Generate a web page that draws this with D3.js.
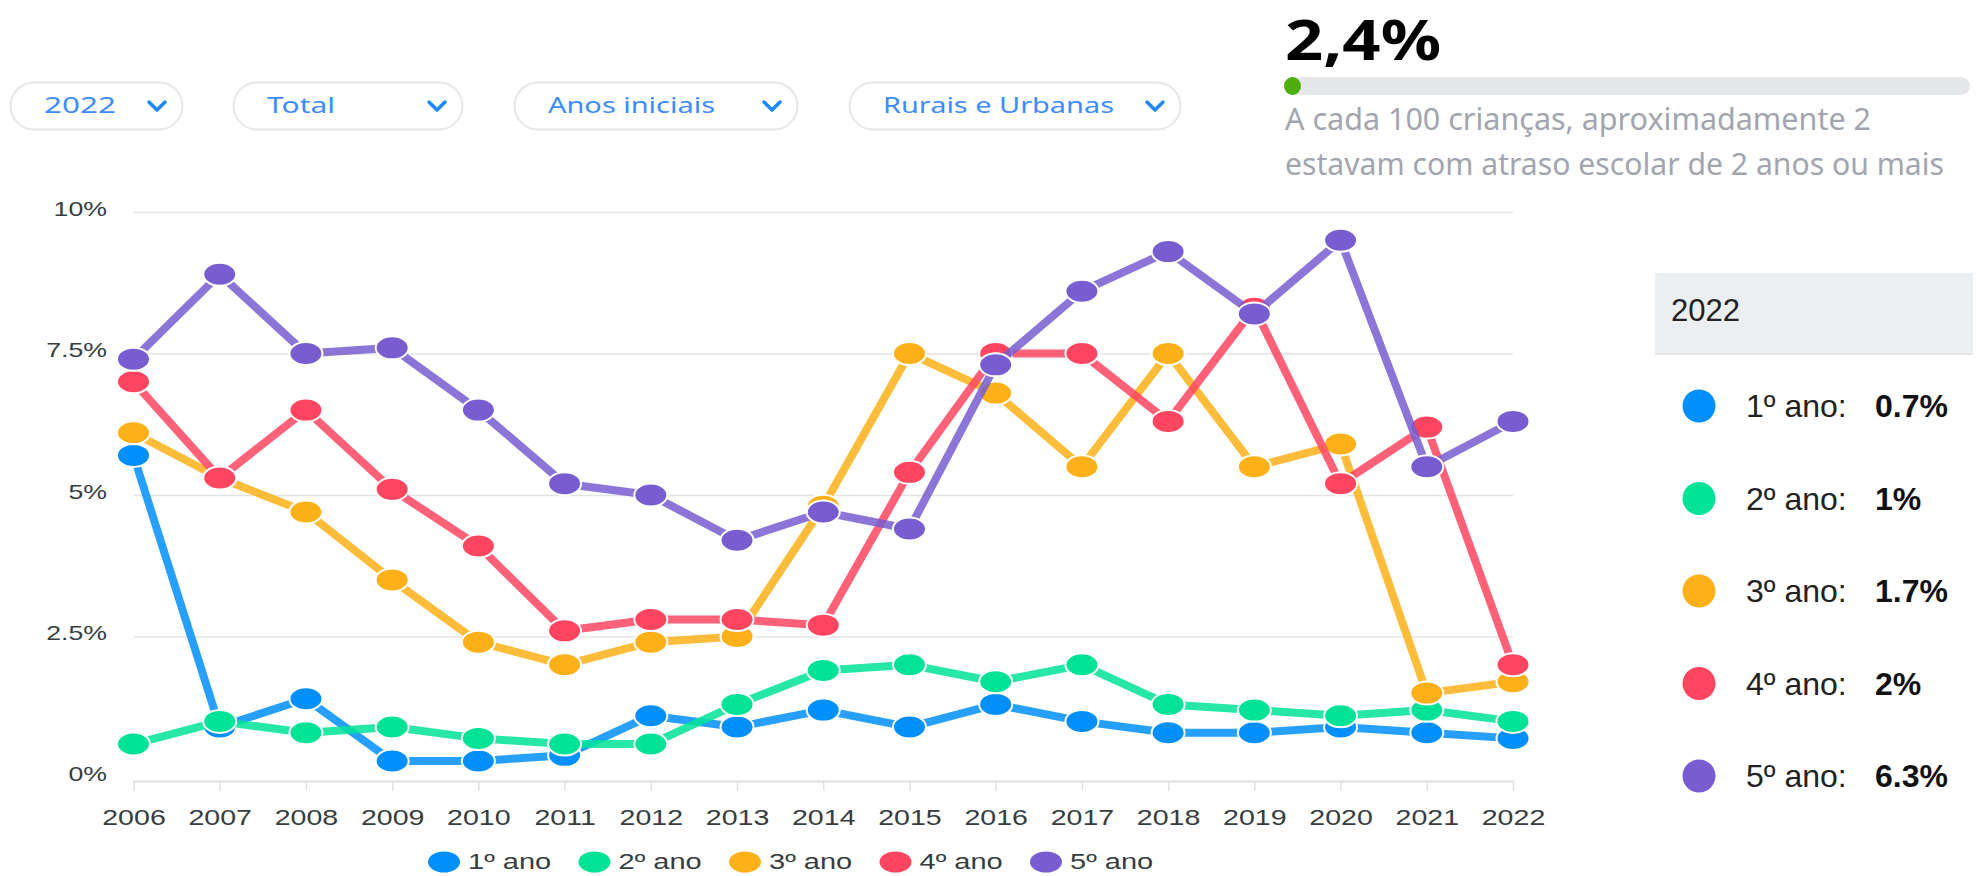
<!DOCTYPE html>
<html>
<head>
<meta charset="utf-8">
<script src="https://cdn.jsdelivr.net/npm/d3@7/dist/d3.min.js"></script>
<style>
  body { margin: 0; background: #fff; }
  svg { display: block; }
</style>
</head>
<body>
<div id="page"></div>
<script>
// ---- data ----
var years = [2006, 2007, 2008, 2009, 2010, 2011, 2012, 2013, 2014, 2015, 2016, 2017, 2018, 2019, 2020, 2021, 2022];
var serieNames = ["1º ano", "2º ano", "3º ano", "4º ano", "5º ano"];
var ano1 = [5.7, 0.9, 1.4, 0.3, 0.3, 0.4, 1.1, 0.9, 1.2, 0.9, 1.3, 1.0, 0.8, 0.8, 0.9, 0.8, 0.7];
var ano2 = [0.6, 1.0, 0.8, 0.9, 0.7, 0.6, 0.6, 1.3, 1.9, 2.0, 1.7, 2.0, 1.3, 1.2, 1.1, 1.2, 1.0];
var ano3 = [6.1, 5.3, 4.7, 3.5, 2.4, 2.0, 2.4, 2.5, 4.8, 7.5, 6.8, 5.5, 7.5, 5.5, 5.9, 1.5, 1.7];
var ano4 = [7.0, 5.3, 6.5, 5.1, 4.1, 2.6, 2.8, 2.8, 2.7, 5.4, 7.5, 7.5, 6.3, 8.3, 5.2, 6.2, 2.0];
var ano5 = [7.4, 8.9, 7.5, 7.6, 6.5, 5.2, 5.0, 4.2, 4.7, 4.4, 7.3, 8.6, 9.3, 8.2, 9.5, 5.5, 6.3];
var yTicks = [0, 2.5, 5, 7.5, 10];
var yTickLabels = ["0%", "2.5%", "5%", "7.5%", "10%"];
var filterLabels = ["2022", "Total", "Anos iniciais", "Rurais e Urbanas"];
var headline = "2,4%";
var headlineShare = 2.4;
var captionLines = ["A cada 100 crianças, aproximadamente 2", "estavam com atraso escolar de 2 anos ou mais"];
var panelYear = "2022";
var panelValues = ["0.7%", "1%", "1.7%", "2%", "6.3%"];

var colors = ["#008FFB", "#00E396", "#FEB019", "#FF4560", "#775DD0"];
var series = [ano1, ano2, ano3, ano4, ano5];

// ---- page ----
var svgWidth = 1985;
var svgHeight = 876;
var sx = 1.27; // the screenshot is stretched sideways

var svg = d3.select("#page")
  .append("svg")
  .attr("width", svgWidth)
  .attr("height", svgHeight)
  .style("font-family", "'Liberation Sans', Arial, sans-serif");

// ---- filter pills ----
var pillX = [10, 233, 514, 849];
var pillW = [172, 229, 283, 331];
var pillTextW = [72, 68, 167, 231];

var pills = svg.append("g").attr("class", "pills");
filterLabels.forEach(function(label, i) {
  var g = pills.append("g").attr("transform", `translate(${pillX[i]}, 82)`);
  g.append("rect")
    .attr("x", 0.5).attr("y", 0.5)
    .attr("width", pillW[i]).attr("height", 47)
    .attr("rx", 23.5)
    .attr("fill", "#fff")
    .attr("stroke", "#e6e6ec")
    .attr("stroke-width", 2);
  g.append("text")
    .attr("x", 34).attr("y", 31)
    .attr("font-family", "'Noto Sans', sans-serif")
    .attr("font-size", 22)
    .attr("fill", "#3d8cff")
    .attr("textLength", pillTextW[i])
    .attr("lengthAdjust", "spacingAndGlyphs")
    .text(label);
  var cx = pillW[i] - 25;
  g.append("path")
    .attr("d", `M${cx - 8},${20} L${cx},${28} L${cx + 8},${20}`)
    .attr("fill", "none")
    .attr("stroke", "#1e88ff")
    .attr("stroke-width", 3.5)
    .attr("stroke-linecap", "round")
    .attr("stroke-linejoin", "round");
});

// ---- headline block ----
svg.append("text")
  .attr("x", 1285).attr("y", 60)
  .attr("font-family", "'Noto Sans', sans-serif")
  .attr("font-weight", "bold")
  .attr("font-size", 56)
  .attr("fill", "#000")
  .attr("textLength", 156)
  .attr("lengthAdjust", "spacingAndGlyphs")
  .text(headline);

var barX = 1284, barW = 686;
var barScale = d3.scaleLinear().domain([0, 100]).range([0, barW]);
svg.append("rect")
  .attr("x", barX).attr("y", 77)
  .attr("width", barW).attr("height", 18)
  .attr("rx", 9)
  .attr("fill", "#e6e7eb");
svg.append("rect")
  .attr("x", barX).attr("y", 77)
  .attr("width", Math.max(barScale(headlineShare), 17)).attr("height", 18)
  .attr("rx", 9)
  .attr("fill", "#4fae0c");

var captionW = [586, 659];
captionLines.forEach(function(line, i) {
  svg.append("text")
    .attr("x", 1285).attr("y", 130 + i * 45)
    .attr("font-family", "'Noto Sans', sans-serif")
    .attr("font-size", 30)
    .attr("fill", "#a2a5b0")
    .attr("textLength", captionW[i])
    .attr("lengthAdjust", "spacingAndGlyphs")
    .text(line);
});

// ---- line chart ----
var xScale = d3.scalePoint().domain(years).range([133.5, 1513]);
var yScale = d3.scaleLinear().domain([0, 10]).range([778, 212]);

var chartGroup = svg.append("g").attr("class", "chart");

// gridlines + y labels
var leftAxis = d3.axisLeft(yScale)
  .tickValues(yTicks.filter(d => d > 0))
  .tickSize(-(1513 - 133.5))
  .tickFormat(d => yTickLabels[yTicks.indexOf(d)]);

var yAxisG = chartGroup.append("g")
  .attr("transform", "translate(133.5, 0)")
  .call(leftAxis);
yAxisG.select(".domain").remove();
yAxisG.selectAll(".tick line")
  .attr("stroke", "#e3e3e3")
  .attr("stroke-width", 1.5);
yAxisG.selectAll(".tick text")
  .attr("x", 0).attr("dy", null).attr("y", 0)
  .attr("transform", `translate(-26.5, 3) scale(${sx}, 1)`)
  .attr("text-anchor", "end")
  .attr("font-size", 21)
  .attr("font-family", "'Liberation Sans', Arial, sans-serif")
  .attr("fill", "#373d3f");
// 0% label sits by the axis
chartGroup.append("text")
  .attr("transform", `translate(107, ${yScale(0) + 3}) scale(${sx}, 1)`)
  .attr("text-anchor", "end")
  .attr("font-size", 21)
  .attr("fill", "#373d3f")
  .text(yTickLabels[0]);

// x axis
var bottomAxis = d3.axisBottom(xScale).tickSize(10).tickSizeOuter(0);
var xAxisG = chartGroup.append("g")
  .attr("transform", "translate(0, 781)")
  .call(bottomAxis);
xAxisG.select(".domain")
  .attr("stroke", "#e0e0e0")
  .attr("stroke-width", 2);
xAxisG.selectAll(".tick line")
  .attr("stroke", "#e0e0e0")
  .attr("stroke-width", 1.5);
xAxisG.selectAll(".tick text")
  .attr("y", 0).attr("dy", null)
  .attr("transform", `translate(0, 44) scale(${sx}, 1)`)
  .attr("font-size", 22.5)
  .attr("font-family", "'Liberation Sans', Arial, sans-serif")
  .attr("fill", "#373d3f");

// series: line then markers, in series order
var line = d3.line()
  .x((d, i) => xScale(years[i]))
  .y(d => yScale(d));

series.forEach(function(values, s) {
  var g = chartGroup.append("g").attr("class", "serie");
  g.append("path")
    .datum(values)
    .attr("d", line)
    .attr("fill", "none")
    .attr("stroke", colors[s])
    .attr("stroke-opacity", 0.85)
    .attr("stroke-width", 8)
    .attr("stroke-linejoin", "round");
  g.selectAll("ellipse")
    .data(values)
    .enter()
    .append("ellipse")
    .attr("cx", (d, i) => xScale(years[i]))
    .attr("cy", d => yScale(d))
    .attr("rx", 16.5)
    .attr("ry", 11.5)
    .attr("fill", colors[s])
    .attr("stroke", "#fff")
    .attr("stroke-width", 2);
});

// bottom legend
var legendStart = 444, legendStep = 150.5;
var legend = chartGroup.append("g").attr("class", "legend");
serieNames.forEach(function(name, s) {
  var cx = legendStart + s * legendStep;
  legend.append("ellipse")
    .attr("cx", cx).attr("cy", 862)
    .attr("rx", 16).attr("ry", 10.5)
    .attr("fill", colors[s]);
  legend.append("text")
    .attr("transform", `translate(${cx + 24}, 869) scale(${sx + 0.08}, 1)`)
    .attr("font-size", 21.5)
    .attr("fill", "#373d3f")
    .text(name);
});

// ---- year panel on the right ----
var panel = svg.append("g").attr("class", "panel");
panel.append("rect")
  .attr("x", 1655).attr("y", 273)
  .attr("width", 318).attr("height", 551)
  .attr("fill", "#fff");
panel.append("rect")
  .attr("x", 1655).attr("y", 273)
  .attr("width", 318).attr("height", 81)
  .attr("fill", "#eceff1");
panel.append("line")
  .attr("x1", 1655).attr("x2", 1973)
  .attr("y1", 354).attr("y2", 354)
  .attr("stroke", "#dcdfe2")
  .attr("stroke-width", 1.5);
panel.append("text")
  .attr("x", 1671).attr("y", 321)
  .attr("font-size", 31)
  .attr("fill", "#222")
  .text(panelYear);

serieNames.forEach(function(name, s) {
  var cy = 406 + s * 92.5;
  panel.append("circle")
    .attr("cx", 1699).attr("cy", cy)
    .attr("r", 16.5)
    .attr("fill", colors[s]);
  panel.append("text")
    .attr("x", 1746).attr("y", cy + 11)
    .attr("font-size", 32)
    .attr("fill", "#222")
    .text(name + ":");
  panel.append("text")
    .attr("x", 1875).attr("y", cy + 11)
    .attr("font-size", 32)
    .attr("font-weight", "bold")
    .attr("fill", "#111")
    .text(panelValues[s]);
});
</script>
</body>
</html>
